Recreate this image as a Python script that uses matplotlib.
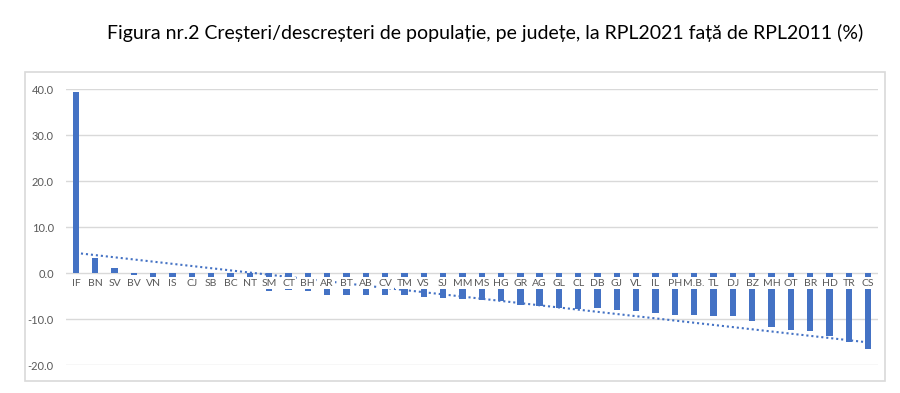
#!/usr/bin/env python3
# coding=utf-8
"""Population change by county, RPL2021 vs RPL2011 (%)."""

import numpy as np
import matplotlib

matplotlib.use("Agg")
import matplotlib.pyplot as plt
from matplotlib.patches import Rectangle

counties = ["IF", "BN", "SV", "BV", "VN", "IS", "CJ", "SB", "BC", "NT",
            "SM", "CT", "BH", "AR", "BT", "AB", "CV", "TM", "VS", "SJ",
            "MM", "MS", "HG", "GR", "AG", "GL", "CL", "DB", "GJ", "VL",
            "IL", "PH", "M.B.", "TL", "DJ", "BZ", "MH", "OT", "BR", "HD",
            "TR", "CS"]
change = [39.3, 3.3, 1.1, -0.4, -1.5, -1.5, -1.7, -2.3, -2.4, -3.3,
          -4.0, -3.8, -4.0, -4.8, -4.8, -4.8, -4.8, -4.8, -5.2, -5.4,
          -5.6, -5.9, -6.1, -7.0, -7.2, -7.5, -7.8, -7.7, -8.0, -8.3,
          -8.6, -9.1, -9.1, -9.4, -9.4, -10.5, -11.8, -12.4, -12.6, -13.7,
          -14.9, -16.6]
yticks = [-20, -10, 0, 10, 20, 30, 40]

BLUE = "#4472C4"
GREY = "#595959"

plt.rcParams["font.family"] = ["Lato", "DejaVu Sans"]


def main():
    x = np.arange(len(counties))
    vals = np.array(change)

    fig = plt.figure(figsize=(9, 3.93), dpi=100)
    ax = fig.add_axes([0.0737, 0.0712, 0.9016, 0.7023])

    # outer chart-area border
    fig.patches.append(Rectangle((25 / 900, 1 - 381 / 393), 860 / 900, 309 / 393,
                                 transform=fig.transFigure, fill=False,
                                 edgecolor="#d9d9d9", lw=1.2))

    ax.bar(x, vals, width=0.33, color=BLUE, zorder=2)

    # linear trendline
    k, b = np.polyfit(x + 1, vals, 1)
    ax.plot(x, k * (x + 1) + b, color=BLUE, ls=(0, (1, 1.4)), lw=1.5, zorder=3)

    # category labels sit on the zero line, masking the bars
    for xi, name in zip(x, counties):
        ax.text(xi, -2.2, name, ha="center", va="center", fontsize=7.5,
                color=GREY, zorder=4,
                bbox=dict(boxstyle="square,pad=0.12", fc="white", ec="none"))

    ax.set_xlim(-0.5, len(counties) - 0.5)
    ax.set_ylim(-20, 40)
    ax.set_xticks([])
    ax.set_yticks(yticks)
    ax.set_yticklabels([f"{t:.1f}" for t in yticks], fontsize=8, color=GREY)
    ax.tick_params(axis="y", length=0, pad=9)
    ax.grid(axis="y", color="#d9d9d9", lw=1, zorder=0)
    for s in ax.spines.values():
        s.set_visible(False)

    fig.text(0.539, 0.915,
             "Figura nr.2 Creșteri/descreșteri de populație, pe județe, "
             "la RPL2021 față de RPL2011 (%)",
             ha="center", va="center", fontsize=14, color="#000000")

    fig.savefig("out.png", dpi=100)


if __name__ == "__main__":
    main()
